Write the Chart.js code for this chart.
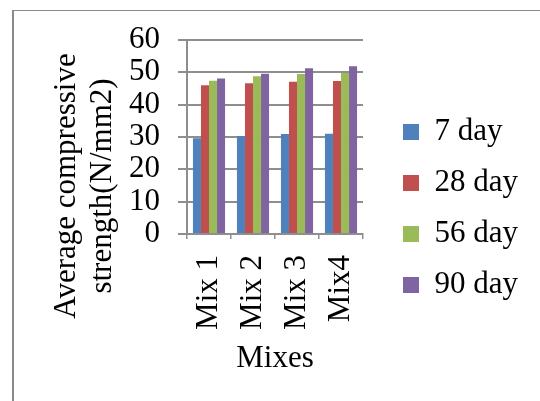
<!DOCTYPE html>
<html>
<head>
<meta charset="utf-8">
<script src="https://cdn.jsdelivr.net/npm/chart.js@4"></script>
<style>
  html, body { margin: 0; padding: 0; background: #fff; overflow: hidden; }
  #frame { position: absolute; left: 12px; top: 10px; width: 600px; height: 500px;
           border-left: 2px solid #8a8a8a; border-top: 1px solid #8a8a8a; }
  #wrap { position: absolute; left: 0; top: 0; width: 540px; height: 401px; }
</style>
</head>
<body>
<div id="frame"></div>
<div id="wrap"><canvas id="grafico"></canvas></div>
<script>
const categorias = ['Mix 1', 'Mix 2', 'Mix 3', 'Mix4'];
const dia7 = [29.6, 30.3, 30.9, 31.0];
const dia28 = [46.0, 46.6, 47.1, 47.3];
const dia56 = [47.4, 48.8, 49.5, 49.8];
const dia90 = [48.1, 49.6, 51.3, 51.9];
const tituloY = ['Average compressive', 'strength(N/mm2)'];
const tituloX = 'Mixes';

const cores = {
    azul: '#4F81BD',
    vermelho: '#C0504D',
    verde: '#9BBB59',
    roxo: '#8064A2',
    grade: '#8e8e8e'
};
const fonte = '"Liberation Serif", "Times New Roman", serif';

// a legenda vertical do Chart.js fica limitada a 1/4 da largura; deixa ela com a largura que precisa
const LegendaEl = (Chart.Legend && Chart.Legend._element) || Chart.registry.getPlugin('legend')._element;
const fitOriginal = LegendaEl.prototype.fit;
LegendaEl.prototype.fit = function () {
    fitOriginal.call(this);
    if (!this.isHorizontal()) this.width = 139;
};

// desenha o titulo do eixo y centrado na altura do grafico todo (como no Excel)
const tituloEixoY = {
    id: 'tituloEixoY',
    afterDraw(chart) {
        const ctx = chart.ctx;
        ctx.save();
        ctx.font = '31px ' + fonte;
        ctx.fillStyle = '#000';
        ctx.textAlign = 'center';
        ctx.textBaseline = 'middle';
        const xs = [67, 103];
        tituloY.forEach((linha, i) => {
            ctx.save();
            ctx.translate(xs[i], 186);
            ctx.rotate(-Math.PI / 2);
            ctx.fillText(linha, 0, 0);
            ctx.restore();
        });
        ctx.restore();
    }
};

new Chart(document.getElementById('grafico'), {
    type: 'bar',
    data: {
        labels: categorias,
        datasets: [
            { label: '7 day', data: dia7, backgroundColor: cores.azul },
            { label: '28 day', data: dia28, backgroundColor: cores.vermelho },
            { label: '56 day', data: dia56, backgroundColor: cores.verde },
            { label: '90 day', data: dia90, backgroundColor: cores.roxo }
        ]
    },
    options: {
        responsive: true,
        maintainAspectRatio: false,
        animation: false,
        datasets: { bar: { categoryPercentage: 0.73, barPercentage: 1.0 } },
        layout: { padding: { left: 100, right: 18, top: 40, bottom: 24 } },
        plugins: {
            legend: {
                position: 'right',
                labels: {
                    color: '#000',
                    font: { family: fonte, size: 31 },
                    boxWidth: 16,
                    boxHeight: 16,
                    padding: 20
                }
            },
            tooltip: { enabled: false }
        },
        scales: {
            x: {
                grid: { display: true, drawOnChartArea: false, color: cores.grade, tickLength: 5, lineWidth: 1.5 },
                border: { color: cores.grade, width: 2 },
                ticks: {
                    color: '#000',
                    font: { family: fonte, size: 31 },
                    autoSkip: false,
                    maxRotation: 90,
                    minRotation: 90,
                    padding: 16
                },
                title: {
                    display: true,
                    text: tituloX,
                    color: '#000',
                    font: { family: fonte, size: 31 },
                    padding: { top: 9, bottom: 0 }
                },
                afterFit(escala) { escala.height = 143; }
            },
            y: {
                min: 0,
                max: 60,
                ticks: {
                    stepSize: 10,
                    autoSkip: false,
                    color: '#000',
                    font: { family: fonte, size: 31 },
                    padding: 18
                },
                grid: { color: cores.grade, lineWidth: 2, tickLength: 9 },
                border: { color: cores.grade, width: 2 },
                afterFit(escala) { escala.width = 87; }
            },
            folga: {
                type: 'linear',
                position: 'right',
                display: true,
                grid: { display: false },
                border: { display: false },
                ticks: { display: false },
                afterFit(escala) { escala.width = 20; }
            }
        }
    },
    plugins: [tituloEixoY]
});
</script>
</body>
</html>
